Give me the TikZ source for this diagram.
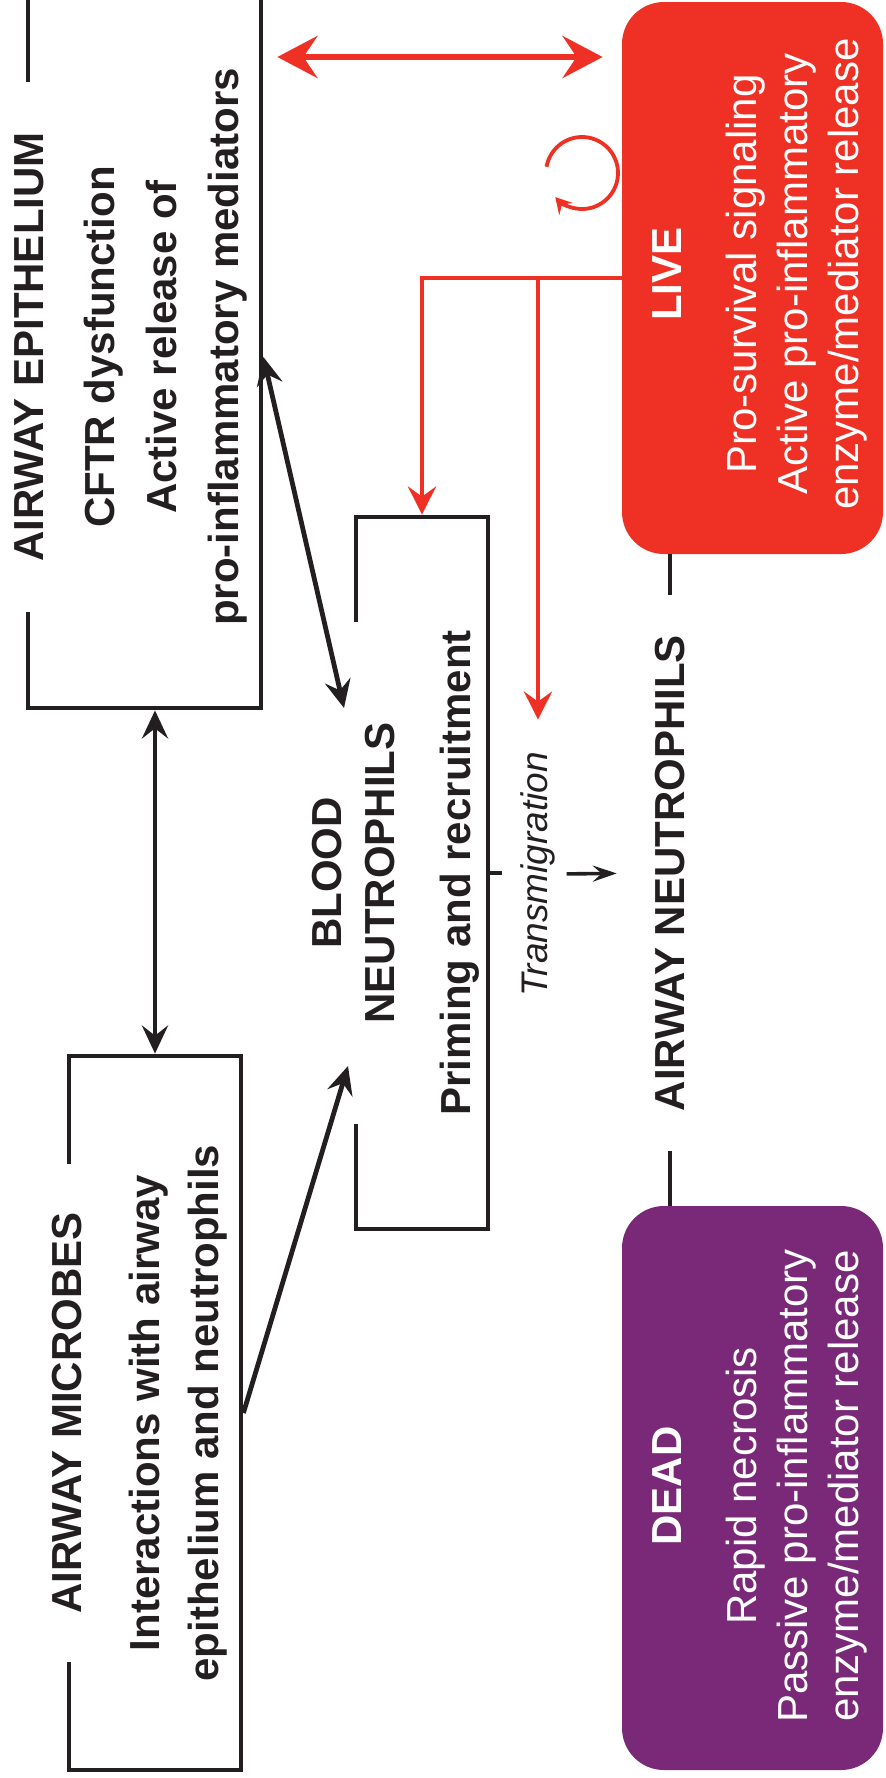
\documentclass[tikz,border=0pt]{standalone}
\usepackage{fontspec}
\setmainfont{Liberation Sans}
\usepackage{xcolor}
\usepackage{tikz}
\usetikzlibrary{arrows.meta}

\definecolor{ink}{HTML}{231F20}
\definecolor{livered}{HTML}{EE3124}
\definecolor{deadpurple}{HTML}{7A2878}

\tikzset{
  frame/.style={draw=ink, line width=2.4pt, inner sep=0pt},
  frametitle/.style={fill=white, rotate=90, inner sep=0pt, text=ink, align=center,
    font=\fontsize{21}{26.5}\selectfont\bfseries},
  framebody/.style={rotate=90, inner sep=0pt, text=ink, align=center,
    font=\fontsize{21}{31}\selectfont\bfseries},
  state/.style={rounded corners=21pt, inner sep=0pt},
  statetext/.style={rotate=90, inner sep=0pt, text=white, align=center,
    font=\fontsize{21}{25.5}\selectfont},
  blkarrow/.style={draw=ink, line width=2.4pt, >={Stealth[length=14pt,width=13pt,inset=5pt]}},
  thinline/.style={draw=ink, line width=1.8pt, >={Stealth[length=12pt,width=8pt,inset=4.5pt]}},
  redlink/.style={draw=livered, line width=3pt, >={Stealth[length=20pt,width=21pt,inset=7pt]}},
  redline/.style={draw=livered, line width=2.4pt, >={Stealth[length=14pt,width=14pt,inset=5pt]}},
  redloop/.style={draw=livered, line width=1.9pt, >={Stealth[length=8pt,width=9pt,inset=3pt]}}
}

\begin{document}
\begin{tikzpicture}[x=0.5pt, y=-0.5pt]
  \useasboundingbox (0,0) rectangle (885,1778);
  % boxes
  \node[frame, minimum width=116.5pt, minimum height=361pt] (epi) at (144.5,347) {};
  \node[frame, minimum width=86pt, minimum height=357pt] (mic) at (155,1413) {};
  \node[frame, minimum width=66pt, minimum height=356pt] (blood) at (422,873) {};
  \node[state, fill=livered, minimum width=130.5pt, minimum height=276pt] (live) at (752.5,278) {};
  \node[state, fill=deadpurple, minimum width=130.5pt, minimum height=282pt] (dead) at (752.5,1488) {};
  %
  \node[frametitle, minimum width=265pt] (epiT) at ([xshift=2pt]epi.west) {AIRWAY EPITHELIUM};
  \node[frametitle, minimum width=249pt] (micT) at (mic.west) {AIRWAY MICROBES};
  \node[frametitle, minimum width=251pt] (bloodT) at (blood.west) {BLOOD\\NEUTROPHILS};
  %
  \node[framebody] (epiB) at (166,347) {CFTR dysfunction\\Active release of\\pro-inflammatory mediators};
  \node[framebody, font=\fontsize{21}{29.5}\selectfont\bfseries] (micB) at (178,1413) {Interactions with airway\\epithelium and neutrophils};
  \node[framebody] (bloodB) at (460,873) {Priming and recruitment};
  %
  \node[statetext, font=\fontsize{21}{25}\selectfont\bfseries] (liveT) at (667,274) {LIVE};
  \node[statetext] (liveB) at (797,274) {Pro-survival signaling\\Active pro-inflammatory\\enzyme/mediator release};
  \node[statetext, font=\fontsize{21}{25}\selectfont\bfseries] (deadT) at (667,1486) {DEAD};
  \node[statetext] (deadB) at (797,1486) {Rapid necrosis\\Passive pro-inflammatory\\enzyme/mediator release};
  %
  \node[rotate=90, inner ysep=0pt, inner xsep=20pt, text=ink, font=\fontsize{21}{25}\selectfont\bfseries] (an) at (670,873) {AIRWAY NEUTROPHILS};
  \node[rotate=90, inner sep=0pt, text=ink, font=\fontsize{18.5}{22}\selectfont\itshape] (tm) at (538,874) {Transmigration};
  %
  \coordinate (rlink) at (440,57);
  \coordinate (selfc) at (582,173);
  \coordinate (bin1) at (344,708);
  \coordinate (bin2) at (348,1066);
  %
  \draw[thinline] (an.east) -- (an.east |- live.south);
  \draw[thinline] (an.west) -- (an.west |- dead.north);
  \draw[thinline] (blood.east) -- ++(6pt,0);
  \draw[thinline, ->, shorten <=5.5pt, shorten >=19pt] (tm.south) -- (an.north);
  %
  \draw[redlink, <->, shorten <=7pt, shorten >=9.5pt] (epi.east |- rlink) -- (live.west |- rlink);
  \draw[redloop, ->] (selfc) ++(-170:36) arc[start angle=-170, end angle=138, radius=36];
  \draw[redline, ->] (live.west) -| (blood.north);
  \draw[redline, ->, shorten >=16pt] (live.west -| tm) -- (tm.east);
  %
  \draw[blkarrow, <->] ([yshift=-5pt]epi.east) -- (bin1);
  \draw[blkarrow, <->] (epi.south -| mic.north) -- (mic.north);
  \draw[blkarrow, ->] (mic.east) -- (bin2);
\end{tikzpicture}
\end{document}
